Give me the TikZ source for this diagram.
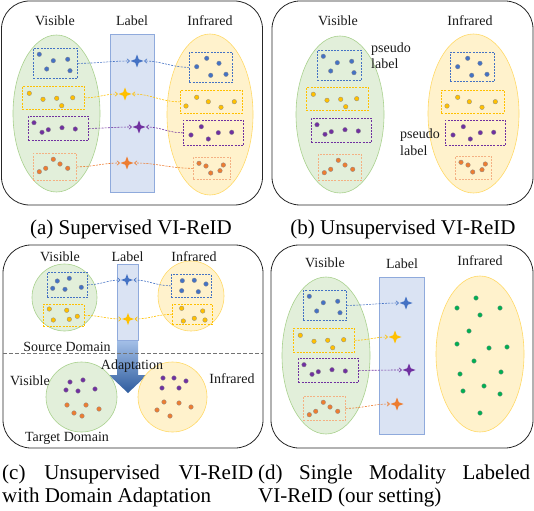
\documentclass[tikz,border=0pt]{standalone}
\usepackage{fontspec}
\setmainfont{Liberation Serif}
\usetikzlibrary{shapes.geometric,arrows.meta}
\definecolor{bluedot}{HTML}{4472C4}
\definecolor{bluebox}{HTML}{4472C4}
\definecolor{yellowdot}{HTML}{FFC000}
\definecolor{yellowbox}{HTML}{FFC000}
\definecolor{purpledot}{HTML}{7030A0}
\definecolor{purplebox}{HTML}{7030A0}
\definecolor{orangedot}{HTML}{ED7D31}
\definecolor{orangebox}{HTML}{F4B183}
\definecolor{greendot}{HTML}{00B050}
\definecolor{visfill}{HTML}{E2EFDA}
\definecolor{visborder}{HTML}{A9D18E}
\definecolor{irfill}{HTML}{FFF2CC}
\definecolor{irborder}{HTML}{FFD966}
\definecolor{lbfill}{HTML}{DAE3F3}
\definecolor{lbborder}{HTML}{8FAADC}
\definecolor{arrtop}{HTML}{A9C4EB}
\definecolor{arrbot}{HTML}{2E5C9E}
\tikzset{
  panelframe/.style={draw=black!85, line width=0.8pt, rounded corners=28pt},
  visell/.style={ellipse, draw=visborder, fill=visfill, line width=0.6pt, inner sep=0},
  irell/.style={ellipse, draw=irborder, fill=irfill, line width=0.6pt, inner sep=0},
  labelbar/.style={rectangle, draw=lbborder, fill=lbfill, line width=1pt, inner sep=0, anchor=north west},
  clbox/.style={rectangle, dash pattern=on 2pt off 1.2pt, line width=0.7pt, anchor=north west, inner sep=0},
  lstar/.style={star, star points=4, star point ratio=2.6, inner sep=0, minimum size=13pt, draw=none},
  conn/.style={dash pattern=on 2pt off 1.2pt, line width=0.6pt, -{Straight Barb[length=2.5pt,width=4.5pt]}},
  dotst/.style={draw=black!45, line width=0.3pt},
  lab/.style={font=\fontsize{14}{16}\selectfont, text=black!90, anchor=base, inner sep=0},
  captext/.style={font=\fontsize{21}{23}\selectfont, text=black, inner sep=0},
}
% name, x, y, w, h, colour, dot list (a macro)
\newcommand\clusterbox[7]{%
  \node[clbox, draw=#6box, minimum width=#4pt, minimum height=#5pt] (#1) at (#2,#3) {};
  \foreach \qa/\qb in #7 {\fill[dotst, fill=#6dot] (#2+\qa,#3+\qb) circle (2.3pt);}
}
\newcommand\VB{6.3/6.3, 20.3/12.7, 34.7/11.3, 13.7/21, 37/22.7}
\newcommand\VY{7.3/7.3, 21/13.3, 34.7/12.3, 50.7/11.7, 39.7/19.7}
\newcommand\VP{6/6.7, 14/16.3, 20.3/13.7, 34/11.7, 47.3/13}
\newcommand\VO{6.3/18.7, 12.7/15.3, 20.3/6.3, 27/11, 34.7/15.3}
\newcommand\IB{17.7/6.3, 30/11.3, 7.7/14.7, 21.7/23.3, 37/22.3}
\newcommand\IY{6/16, 16.7/7.3, 28.3/11.7, 41/17.3, 54.3/11.7}
\newcommand\IP{8/15, 18.3/6.7, 25.3/19, 35.3/12.7, 48.7/12.3}
\newcommand\IO{6/6.3, 13/9, 17.7/16, 27/13.7, 30.3/8}
\newcommand\CVB{10.3/9, 22.3/6.3, 5.7/16.3, 18/17.3, 34.3/15.3}
\newcommand\CVY{6.3/5, 23.7/6.3, 10.3/16, 26.3/15.3, 34.3/12.3}
\newcommand\CIB{11.3/6.7, 23.3/6.3, 35/10, 10.7/16.7, 27.3/17.7}
\newcommand\CIY{9.7/4.3, 30.7/7, 11.3/17, 22.3/14.3, 33/16}
\begin{document}
\begin{tikzpicture}[x=1pt,y=-1pt]
\useasboundingbox (0,0) rectangle (534,510);

% ================= (a) Supervised =================
\draw[panelframe] (1.5,1) rectangle (262.5,205);
\node[lab] (aVis) at (55,26) {Visible};
\node[lab] (aLab) at (132,26) {Label};
\node[lab] (aIr) at (210,26) {Infrared};
\node[visell, minimum width=87pt, minimum height=157pt] (aVE) at (56.5,113.5) {};
\node[irell, minimum width=86pt, minimum height=161pt] (aIE) at (210,114.5) {};
\node[labelbar, minimum width=44pt, minimum height=158pt] (aBar) at (110,34) {};
\clusterbox{avb}{33}{48}{44}{30}{blue}{\VB}
\clusterbox{avy}{22}{86}{62}{23}{yellow}{\VY}
\clusterbox{avp}{28}{116}{60}{24}{purple}{\VP}
\clusterbox{avo}{33}{153}{43}{27}{orange}{\VO}
\clusterbox{aib}{189}{52}{43}{30}{blue}{\IB}
\clusterbox{aiy}{180}{90}{62}{23}{yellow}{\IY}
\clusterbox{aip}{183}{120}{60}{25}{purple}{\IP}
\clusterbox{aio}{193}{157}{37}{22}{orange}{\IO}
\node[lstar, fill=bluedot] (asb) at (137,61) {};
\node[lstar, fill=yellowdot] (asy) at (125,94) {};
\node[lstar, fill=purpledot] (asp) at (139,127) {};
\node[lstar, fill=orangedot] (aso) at (127,163) {};
\draw[conn, draw=bluedot] (avb.east) to[out=0,in=180] (asb.west);
\draw[conn, draw=bluedot] (aib.west) to[out=180,in=0] (asb.east);
\draw[conn, draw=yellowdot] (avy.east) to[out=0,in=180] (asy.west);
\draw[conn, draw=yellowdot] (aiy.west) to[out=180,in=0] (asy.east);
\draw[conn, draw=purpledot] (avp.east) to[out=0,in=180] (asp.west);
\draw[conn, draw=purpledot] (aip.west) to[out=180,in=0] (asp.east);
\draw[conn, draw=orangedot] (avo.east) to[out=0,in=180] (aso.west);
\draw[conn, draw=orangedot] (aio.west) to[out=180,in=0] (aso.east);
\node[captext, anchor=base] (capA) at (131,234) {(a) Supervised VI-ReID};

% ================= (b) Unsupervised =================
\draw[panelframe] (272,1) rectangle (533,205);
\node[lab] (bVis) at (338,26) {Visible};
\node[lab] (bIr) at (470,26) {Infrared};
\node[visell, minimum width=88pt, minimum height=157pt] (bVE) at (340,114.5) {};
\node[irell, minimum width=91pt, minimum height=159pt] (bIE) at (473.5,113.5) {};
\clusterbox{bvb}{317}{50}{44}{30}{blue}{\VB}
\clusterbox{bvy}{306}{87}{62}{23}{yellow}{\VY}
\clusterbox{bvp}{311}{118}{60}{24}{purple}{\VP}
\clusterbox{bvo}{318}{154}{43}{26}{orange}{\VO}
\clusterbox{bib}{450}{52}{44}{29}{blue}{\IB}
\clusterbox{biy}{441}{90}{63}{23}{yellow}{\IY}
\clusterbox{bip}{445}{120}{60}{25}{purple}{\IP}
\clusterbox{bio}{455}{156}{36}{23}{orange}{\IO}
\node[lab, anchor=base west] (bPs1) at (371,52.5) {pseudo};
\node[lab, anchor=base west] (bPl1) at (371,69) {label};
\node[lab, anchor=base west] (bPs2) at (400,139) {pseudo};
\node[lab, anchor=base west] (bPl2) at (400,155.5) {label};
\node[captext, anchor=base] (capB) at (403,234) {(b) Unsupervised VI-ReID};

% ================= (c) Domain adaptation =================
\draw[panelframe] (3,245) rectangle (263,448);
\node[lab] (cVis) at (60,261) {Visible};
\node[lab] (cLab) at (127.5,261) {Label};
\node[lab] (cIr) at (194,261) {Infrared};
\node[visell, minimum width=65pt, minimum height=67pt] (cVE) at (64.5,297.5) {};
\node[irell, minimum width=66pt, minimum height=70pt] (cIE) at (191,296) {};
\shade[top color=arrtop, bottom color=arrbot] (117,338) -- (138,338) -- (138,375) -- (147,375) -- (128,393) -- (109,375) -- (117,375) -- cycle;
\node[labelbar, minimum width=21pt, minimum height=76pt, line width=0.8pt] (cBar) at (117,264) {};
\clusterbox{cvb}{47}{272}{40}{25}{blue}{\CVB}
\clusterbox{cvy}{43}{304}{41}{22}{yellow}{\CVY}
\clusterbox{cib}{171}{274}{40}{23}{blue}{\CIB}
\clusterbox{ciy}{172}{304}{40}{20}{yellow}{\CIY}
\node[lstar, fill=bluedot, minimum size=12pt] (csb) at (127,280) {};
\node[lstar, fill=yellowdot, minimum size=12pt] (csy) at (128,319) {};
\draw[conn, draw=bluedot] (cvb.east) to[out=0,in=180] (csb.west);
\draw[conn, draw=bluedot] (cib.west) to[out=180,in=0] (csb.east);
\draw[conn, draw=yellowdot] (cvy.east) to[out=0,in=180] (csy.west);
\draw[conn, draw=yellowdot] (ciy.west) to[out=180,in=0] (csy.east);
\node[lab] (cSrc) at (67,351) {Source Domain};
\draw[draw=black!55, line width=0.8pt, dash pattern=on 4pt off 2pt] (3,353.5) -- (263,353.5);
\node[visell, minimum width=71pt, minimum height=70pt] (cVE2) at (81.5,397) {};
\node[irell, minimum width=69pt, minimum height=70pt] (cIE2) at (172.5,397) {};
\node[lab] (cAda) at (132,369) {Adaptation};
\node[lab] (cVis2) at (30,385) {Visible};
\node[lab] (cIr2) at (232,383) {Infrared};
\node[lab] (cTgt) at (67,441) {Target Domain};
\foreach \qa/\qb in {70/382, 83/380, 66/390, 78/391, 95/389, 163/378, 174/378, 186/381, 162/388, 179/388}
  {\fill[dotst, fill=purpledot] (\qa,\qb) circle (2.3pt);}
\foreach \qa/\qb in {67/405, 86/405, 99/409, 74/413, 82/416, 164/402, 179/403, 191/407, 157/410, 170/416}
  {\fill[dotst, fill=orangedot] (\qa,\qb) circle (2.3pt);}
\node[captext, anchor=north west, text width=251pt, align=justify] (capC) at (2,464.5)
  {\hyphenpenalty=10000\tolerance=10000 (c) Unsupervised \mbox{VI-ReID} with Domain Adaptation};

% ================= (d) Single modality labeled =================
\draw[panelframe] (271,245) rectangle (533,448);
\node[lab] (dVis) at (325,267) {Visible};
\node[lab] (dLab) at (402,268) {Label};
\node[lab] (dIr) at (480,265.5) {Infrared};
\node[visell, minimum width=88pt, minimum height=157pt] (dVE) at (326,355.5) {};
\node[irell, minimum width=88pt, minimum height=156pt] (dIE) at (480,354) {};
\node[labelbar, minimum width=45pt, minimum height=157pt] (dBar) at (379,277) {};
\clusterbox{dvb}{303}{290}{43}{30}{blue}{\VB}
\clusterbox{dvy}{293}{328}{61}{24}{yellow}{\VY}
\clusterbox{dvp}{298}{358}{60}{24}{purple}{\VP}
\clusterbox{dvo}{303}{396}{42}{24}{orange}{\VO}
\node[lstar, fill=bluedot] (dsb) at (406,303) {};
\node[lstar, fill=yellowdot] (dsy) at (395,337) {};
\node[lstar, fill=purpledot] (dsp) at (409,370) {};
\node[lstar, fill=orangedot] (dso) at (397,404) {};
\draw[conn, draw=bluedot] (dvb.east) to[out=0,in=180] (dsb.west);
\draw[conn, draw=yellowdot] (dvy.east) to[out=0,in=180] (dsy.west);
\draw[conn, draw=purpledot] (dvp.east) to[out=0,in=180] (dsp.west);
\draw[conn, draw=orangedot] (dvo.east) to[out=0,in=180] (dso.west);
\foreach \qa/\qb in {476/298, 457/308, 480/315, 500/308, 469/331, 457/344, 489/348, 507/347, 474/361, 460/374, 501/372, 484/386, 463/391, 500/394, 480/413}
  {\fill[dotst, fill=greendot] (\qa,\qb) circle (2.3pt);}
\node[captext, anchor=north west, text width=272pt, align=justify] (capD) at (258,464.5)
  {\hyphenpenalty=10000\tolerance=10000 (d) Single Modality Labeled \mbox{VI-ReID} (our setting)};
\end{tikzpicture}
\end{document}
